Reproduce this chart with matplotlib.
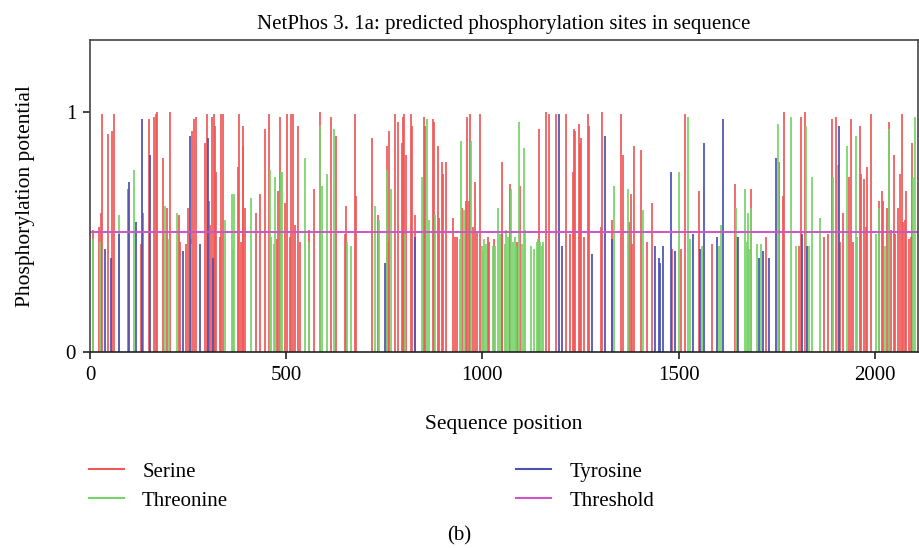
import matplotlib
matplotlib.use("Agg")
import matplotlib.pyplot as plt
from matplotlib.lines import Line2D

# ---- data ----
serine_pos = [8, 23, 28, 30, 46, 57, 60, 96, 130, 136, 151, 164, 167, 171, 187, 196, 205, 226, 230, 244,
              251, 257, 261, 265, 269, 294, 297, 303, 307, 312, 316, 318, 322, 331, 334, 339, 377, 380, 384, 389,
              391, 395, 422, 433, 445, 457, 476, 480, 483, 498, 502, 509, 513, 518, 523, 531, 535, 558, 570, 585,
              615, 626, 650, 653, 676, 678, 718, 733, 756, 760, 763, 778, 786, 794, 797, 801, 806, 817, 820, 827,
              850, 854, 873, 877, 886, 890, 896, 899, 907, 926, 930, 934, 948, 957, 960, 965, 968, 975, 980, 987,
              994, 1013, 1016, 1030, 1049, 1051, 1071, 1089, 1097, 1144, 1161, 1169, 1188, 1212, 1223, 1230, 1234,
              1237, 1245, 1248, 1252, 1259, 1268, 1272, 1302, 1305, 1329, 1354, 1358, 1374, 1378, 1382, 1386, 1404,
              1420, 1431, 1483, 1507, 1515, 1551, 1585, 1643, 1648, 1684, 1723, 1757, 1765, 1769, 1806, 1813, 1821,
              1871, 1881, 1890, 1900, 1912, 1920, 1935, 1939, 1944, 1962, 1966, 1973, 1977, 1981, 1989, 2011, 2018,
              2022, 2030, 2037, 2041, 2048, 2052, 2060, 2064, 2069, 2072, 2076, 2080, 2087, 2091, 2094]
serine_val = [0.51, 0.52, 0.58, 0.99, 0.91, 0.92, 0.99, 0.68, 0.45, 0.58, 0.97, 0.98, 0.99, 1.0, 0.81, 0.60, 1.0, 0.57, 0.46, 0.45,
              0.60, 0.47, 0.92, 0.97, 0.98, 0.87, 0.99, 0.63, 0.53, 0.98, 0.99, 0.94, 0.75, 0.48, 0.99, 0.99, 0.77, 0.99, 0.46, 0.86,
              0.94, 0.60, 0.58, 0.66, 0.93, 0.99, 0.47, 0.67, 0.98, 0.62, 0.99, 0.48, 0.99, 0.99, 0.53, 0.94, 0.46, 0.51, 0.68, 1.0,
              0.98, 0.90, 0.49, 0.61, 0.99, 0.65, 0.89, 0.57, 0.86, 0.46, 0.92, 0.99, 0.96, 0.87, 0.98, 0.99, 0.82, 0.99, 0.94, 0.57,
              0.98, 0.94, 0.97, 0.96, 0.86, 0.56, 0.79, 0.74, 0.79, 0.56, 0.48, 0.48, 0.60, 0.63, 0.98, 0.63, 0.99, 0.52, 0.71, 0.50,
              0.99, 0.48, 0.46, 0.47, 0.49, 0.79, 0.70, 0.46, 0.69, 0.93, 1.0, 0.99, 0.99, 0.99, 0.49, 0.75, 0.93,
              0.92, 0.95, 0.87, 0.89, 0.48, 0.99, 0.94, 0.52, 1.0, 0.55, 0.99, 0.82, 0.54, 0.66, 0.45, 0.86, 0.84,
              0.46, 0.62, 0.43, 0.43, 0.99, 0.67, 0.45, 0.70, 0.48, 0.68, 0.48, 0.79, 0.65, 1.0, 0.44, 0.98, 1.0,
              0.48, 0.49, 0.97, 0.98, 0.46, 0.58, 0.73, 0.97, 0.46, 0.94, 0.74, 0.72, 0.52, 0.77, 0.99, 0.63, 0.67,
              0.63, 0.60, 0.96, 0.51, 0.82, 0.49, 0.60, 0.74, 0.99, 0.54, 0.55, 0.67, 0.47, 0.48, 0.87]

threonine_pos = [8, 26, 73, 113, 190, 201, 221, 257, 345, 361, 365, 368, 411, 459, 462, 469, 472, 486, 490, 547,
                 558, 587, 592, 604, 623, 654, 664, 725, 736, 757, 767, 802, 846, 858, 865, 880, 942, 945, 953, 971,
                 998, 1001, 1005, 1009, 1027, 1033, 1040, 1044, 1057, 1061, 1066, 1074, 1078, 1083, 1086, 1093, 1101,
                 1105, 1108, 1123, 1131, 1138, 1141, 1147, 1151, 1154, 1336, 1371, 1408, 1502, 1525, 1528, 1560, 1604,
                 1609, 1647, 1669, 1673, 1677, 1680, 1685, 1700, 1711, 1753, 1787, 1799, 1825, 1833, 1840, 1859, 1893,
                 1905, 1930, 1951, 1954, 2004, 2011, 2027, 2037, 2098, 2102]
threonine_val = [0.47, 0.46, 0.57, 0.76, 0.61, 0.47, 0.58, 0.45, 0.55, 0.66, 0.43, 0.66, 0.64, 0.76, 0.48, 0.45, 0.73, 0.75, 0.75, 0.81,
                 0.46, 0.94, 0.69, 0.74, 0.93, 0.46, 0.44, 0.61, 0.55, 0.76, 0.68, 0.49, 0.73, 0.97, 0.55, 0.57, 0.47, 0.88, 0.59, 0.88,
                 0.44, 0.42, 0.47, 0.45, 0.44, 0.44, 0.60, 0.49, 0.45, 0.51, 0.48, 0.68, 0.46, 0.48, 0.44, 0.96, 0.45,
                 0.85, 0.51, 0.44, 0.43, 0.46, 0.47, 0.46, 0.44, 0.46, 0.69, 0.68, 0.59, 0.75, 0.98, 0.47, 0.44, 0.44,
                 0.53, 0.60, 0.68, 0.46, 0.58, 0.43, 0.60, 0.45, 0.45, 0.95, 0.98, 0.44, 0.94, 0.44, 0.73, 0.56, 0.73,
                 0.78, 0.86, 0.90, 0.48, 0.49, 0.60, 0.44, 0.93, 0.73, 0.98]

tyrosine_pos = [39, 53, 75, 99, 118, 133, 153, 238, 254, 281, 300, 313, 751, 828, 1196, 1202, 1279, 1312, 1331,
                1439, 1449, 1453, 1461, 1480, 1492, 1536, 1554, 1564, 1597, 1613, 1652, 1704, 1715, 1731, 1749,
                1815, 1827, 1908]
tyrosine_val = [0.43, 0.39, 0.49, 0.71, 0.54, 0.97, 0.82, 0.42, 0.90, 0.45, 0.89, 0.39, 0.37, 0.48, 0.99, 0.44, 0.41, 0.90, 0.47,
                0.44, 0.39, 0.37, 0.44, 0.75, 0.42, 0.49, 0.43, 0.87, 0.48, 0.97, 0.48, 0.39, 0.42, 0.39, 0.81,
                0.49, 0.44, 0.94]

threshold = 0.5
x_ticks = [0, 500, 1000, 1500, 2000]
y_ticks = [0, 1]
y_tick_labels = ["0", "1"]
labels = ["Serine", "Threonine", "Tyrosine", "Threshold"]

# ---- style ----
c_ser = "#f05858"
c_thr = "#76d46a"
c_tyr = "#4a52b4"
c_thr_line = "#cc55c8"

plt.rcParams['font.family'] = ['Liberation Serif', 'DejaVu Serif']

fig = plt.figure(figsize=(9.19, 5.48), dpi=100)
ax = fig.add_axes([90 / 919, 1 - 352 / 548, (918 - 90) / 919, (352 - 40) / 548])

lw = 1.25
ax.vlines(serine_pos, 0, serine_val, colors=c_ser, linewidth=lw)
ax.vlines(threonine_pos, 0, threonine_val, colors=c_thr, linewidth=lw)
ax.vlines(tyrosine_pos, 0, tyrosine_val, colors=c_tyr, linewidth=lw)
ax.axhline(threshold, color=c_thr_line, linewidth=1.4)

ax.set_xlim(0, 2110)
ax.set_ylim(0, 1.3)
ax.set_xticks(x_ticks)
ax.set_yticks(y_ticks)
ax.set_yticklabels(y_tick_labels)
ax.tick_params(axis='both', direction='out', length=5, width=1.2, labelsize=15, pad=5, color='#222222')
for s in ax.spines.values():
    s.set_linewidth(1.2)
    s.set_color('#444444')
ax.spines['bottom'].set_color('#222222')

ax.set_title("NetPhos 3. 1a: predicted phosphorylation sites in sequence", fontsize=15, pad=8)
ax.set_xlabel("Sequence position", fontsize=15.5, labelpad=22)
ax.set_ylabel("Phosphorylation potential", fontsize=15.5, labelpad=22)

handles = [Line2D([], [], color=c_ser, lw=1.5),
           Line2D([], [], color=c_thr, lw=1.5),
           Line2D([], [], color=c_tyr, lw=1.5),
           Line2D([], [], color=c_thr_line, lw=1.5)]
leg_kw = dict(loc='upper left', frameon=False, fontsize=15, handlelength=1.7, handletextpad=0.85,
              labelspacing=0.45, borderpad=0, borderaxespad=0)
leg1 = fig.legend(handles[:2], labels[:2], bbox_to_anchor=(89 / 919, 1 - 462 / 548), **leg_kw)
leg2 = fig.legend(handles[2:], labels[2:], bbox_to_anchor=(516 / 919, 1 - 462 / 548), **leg_kw)

fig.text(459 / 919, 1 - 536 / 548, "(b)", ha='center', va='center', fontsize=15)

fig.savefig("out.png", dpi=100)
